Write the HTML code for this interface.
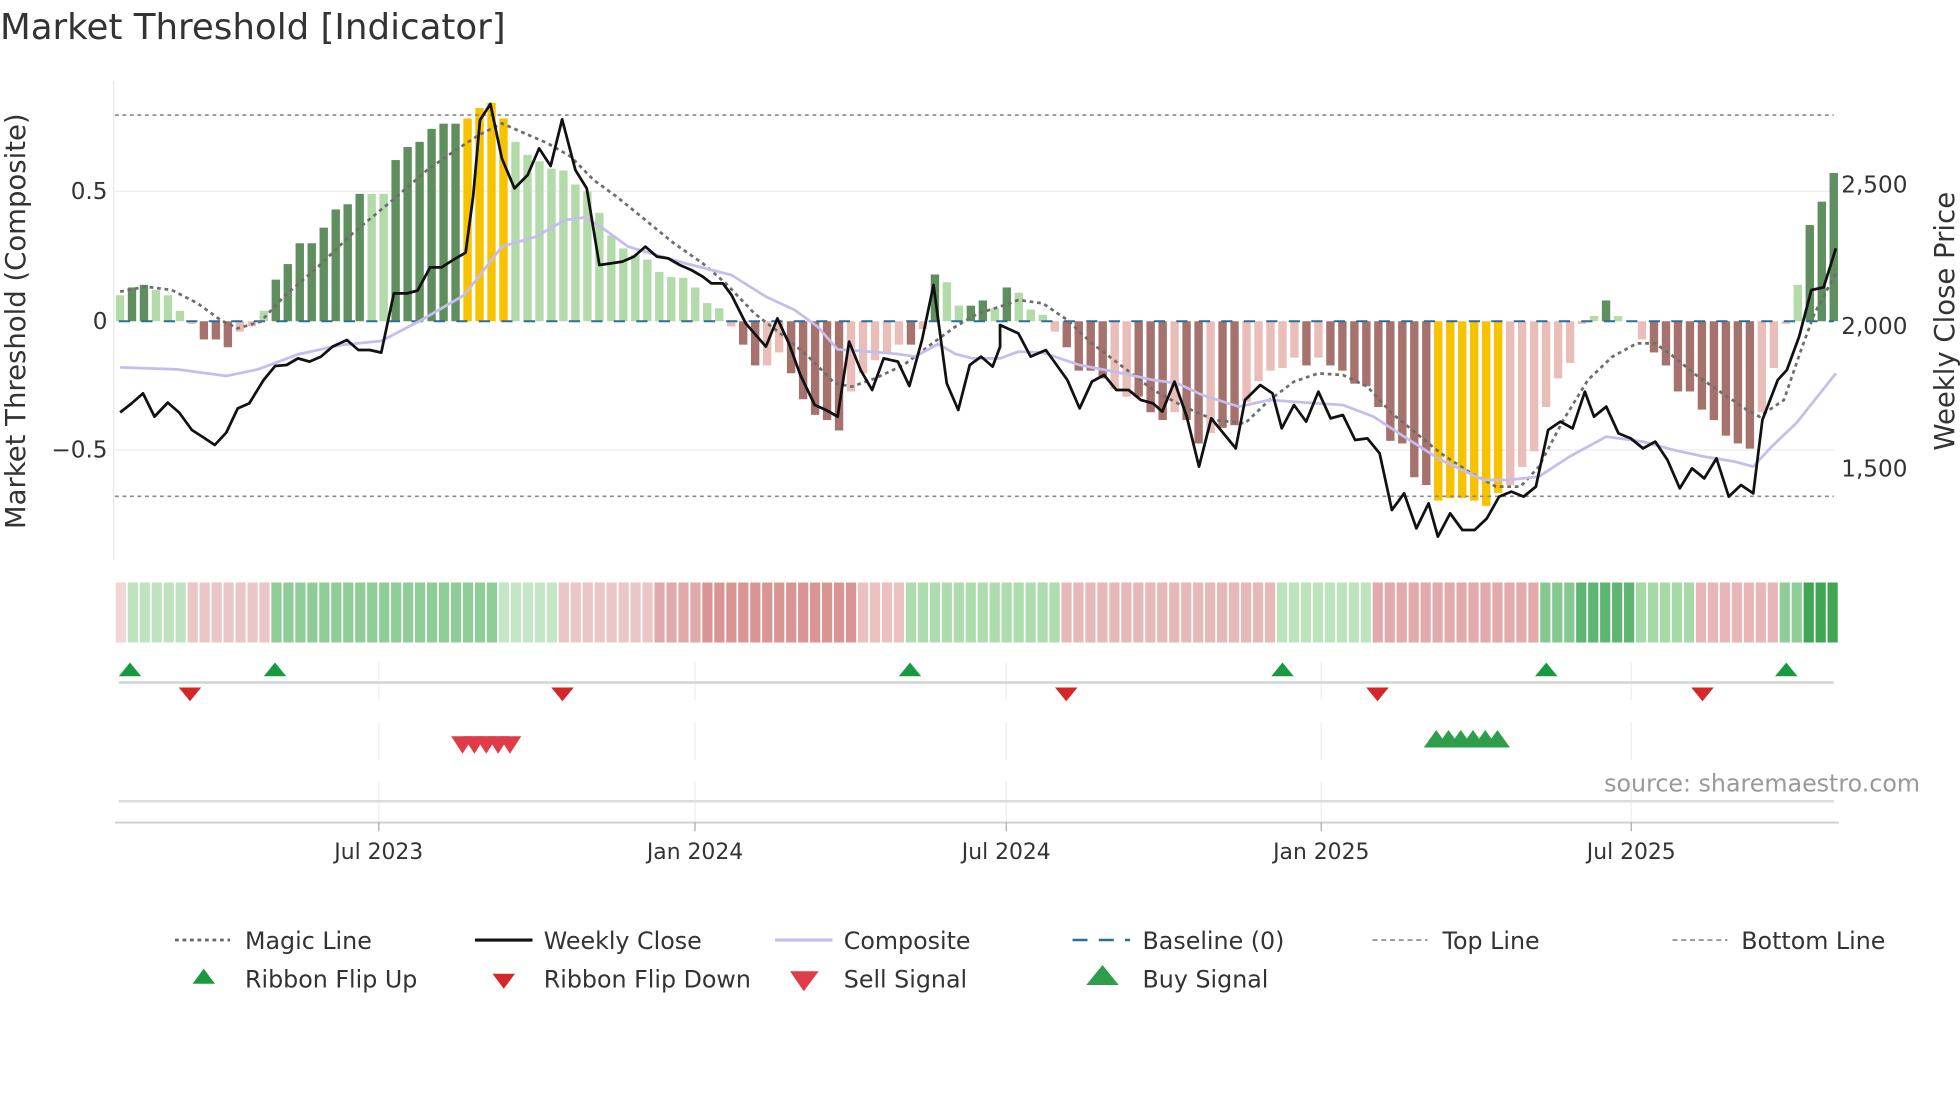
<!DOCTYPE html>
<html><head><meta charset="utf-8"><style>
html,body{margin:0;padding:0;background:#fff;}
svg{display:block;font-family:"DejaVu Sans","Liberation Sans",sans-serif;}
</style></head><body>
<svg id="s" width="1960" height="1102" viewBox="0 0 1568 881.6" xmlns="http://www.w3.org/2000/svg">
<rect width="1568" height="881.6" fill="#fff"/>
<text x="0" y="31" font-size="28.5" fill="#333">Market Threshold [Indicator]</text>
<line x1="91" y1="65" x2="91" y2="448" stroke="#e6e6e6" stroke-width="1"/>
<line x1="92" y1="153" x2="1467" y2="153" stroke="#eeeef2" stroke-width="1.2"/>
<line x1="92" y1="360" x2="1467" y2="360" stroke="#eeeef2" stroke-width="1.2"/>
<text x="86" y="159" font-size="18.5" fill="#333" text-anchor="end">0.5</text>
<text x="86" y="263" font-size="18.5" fill="#333" text-anchor="end">0</text>
<text x="86" y="366" font-size="18.5" fill="#333" text-anchor="end">−0.5</text>
<text x="1473" y="154" font-size="18.5" fill="#333">2,500</text>
<text x="1473" y="267" font-size="18.5" fill="#333">2,000</text>
<text x="1473" y="381" font-size="18.5" fill="#333">1,500</text>
<text transform="translate(20,257) rotate(-90)" font-size="22" fill="#333" text-anchor="middle">Market Threshold (Composite)</text>
<text transform="translate(1563,257) rotate(-90)" font-size="22" fill="#333" text-anchor="middle">Weekly Close Price</text>
<g id="bars"></g>
<line x1="92" y1="92" x2="1467" y2="92" stroke="#888" stroke-width="1.3" stroke-dasharray="3,3"/>
<line x1="92" y1="397" x2="1467" y2="397" stroke="#888" stroke-width="1.3" stroke-dasharray="3,3"/>
<line x1="95" y1="257" x2="1467" y2="257" stroke="#2a6f97" stroke-width="1.6" stroke-dasharray="9,9"/>
<g id="lines"></g>
<g id="rib"></g>
<g stroke="#eceef0" stroke-width="1">
<line x1="303" y1="530" x2="303" y2="560"/><line x1="556" y1="530" x2="556" y2="560"/><line x1="805" y1="530" x2="805" y2="560"/><line x1="1057" y1="530" x2="1057" y2="560"/><line x1="1305" y1="530" x2="1305" y2="560"/>
<line x1="303" y1="578" x2="303" y2="608"/><line x1="556" y1="578" x2="556" y2="608"/><line x1="805" y1="578" x2="805" y2="608"/><line x1="1057" y1="578" x2="1057" y2="608"/><line x1="1305" y1="578" x2="1305" y2="608"/>
<line x1="303" y1="625" x2="303" y2="658"/><line x1="556" y1="625" x2="556" y2="658"/><line x1="805" y1="625" x2="805" y2="658"/><line x1="1057" y1="625" x2="1057" y2="658"/><line x1="1305" y1="625" x2="1305" y2="658"/>
</g>
<line x1="95" y1="546" x2="1467" y2="546" stroke="#d4d4d4" stroke-width="2"/>
<line x1="95" y1="641" x2="1467" y2="641" stroke="#dcdcdc" stroke-width="2"/>
<line x1="92" y1="658" x2="1471" y2="658" stroke="#cfcfcf" stroke-width="1.5"/>
<g stroke="#aaa" stroke-width="1"><line x1="303" y1="658" x2="303" y2="665"/><line x1="556" y1="658" x2="556" y2="665"/><line x1="805" y1="658" x2="805" y2="665"/><line x1="1057" y1="658" x2="1057" y2="665"/><line x1="1305" y1="658" x2="1305" y2="665"/></g>
<g font-size="17.5" fill="#333" text-anchor="middle">
<text x="303" y="687">Jul 2023</text><text x="556" y="687">Jan 2024</text><text x="805" y="687">Jul 2024</text><text x="1057" y="687">Jan 2025</text><text x="1305" y="687">Jul 2025</text>
</g>
<g id="sig"></g>
<text x="1536" y="633" font-size="19" fill="#999" text-anchor="end">source: sharemaestro.com</text>
<g font-size="19" fill="#333">
<line x1="140" y1="752" x2="184" y2="752" stroke="#666" stroke-width="2.2" stroke-dasharray="3,3"/><text x="196" y="759">Magic Line</text>
<line x1="380" y1="752" x2="426" y2="752" stroke="#111" stroke-width="2.5"/><text x="435" y="759">Weekly Close</text>
<line x1="620" y1="752" x2="666" y2="752" stroke="#c4bdee" stroke-width="2.5"/><text x="675" y="759">Composite</text>
<line x1="858" y1="752" x2="904" y2="752" stroke="#2a6f97" stroke-width="2" stroke-dasharray="12,9"/><text x="914" y="759">Baseline (0)</text>
<line x1="1098" y1="752" x2="1142" y2="752" stroke="#888" stroke-width="1.3" stroke-dasharray="4,3"/><text x="1154" y="759">Top Line</text>
<line x1="1338" y1="752" x2="1382" y2="752" stroke="#888" stroke-width="1.3" stroke-dasharray="4,3"/><text x="1393" y="759">Bottom Line</text>
<polygon points="163,775 172,787 154,787" fill="#1a9a40"/><text x="196" y="790">Ribbon Flip Up</text>
<polygon points="394,779 412,779 403,791" fill="#d62728"/><text x="435" y="790">Ribbon Flip Down</text>
<polygon points="632,777 655,777 643,793" fill="#e03c48"/><text x="675" y="790">Sell Signal</text>
<polygon points="882,772 895,788 869,788" fill="#2e9e4a"/><text x="914" y="790">Buy Signal</text>
</g>
</svg>
<script>
(function(){
var NS="http://www.w3.org/2000/svg";
function el(p,t,a){var e=document.createElementNS(NS,t);for(var k in a)e.setAttribute(k,a[k]);p.appendChild(e);return e;}
var C={G:"#5f8f5f",g:"#b3dbaa",R:"#a6726d",r:"#e9bdb8",Y:"#f7c200",n:"#fff"};
var s="g.10 G.13 G.14 g.12 g.10 g.04 r-.01 R-.07 R-.07 R-.10 r-.04 r-.02 g.04 G.16 G.22 G.30 G.30 G.36 G.43 G.45 G.49 g.49 g.49 G.62 G.67 G.69 G.74 G.76 G.76 Y.78 Y.82 Y.84 Y.78 "+
"g.69 g.64 g.615 g.587 g.58 g.526 g.50 g.417 g.33 g.28 g.256 g.237 g.19 g.17 g.167 g.13 g.07 g.05 "+
"r-.02 R-.09 R-.17 r-.17 r-.12 R-.20 R-.30 R-.36 R-.38 R-.42 r-.27 r-.20 r-.15 r-.12 r-.09 R-.09 r-.03 G.18 g.15 g.06 G.06 G.08 g.05 "+
"G.13 g.11 g.045 g.025 r-.04 R-.10 R-.19 R-.19 R-.22 r-.26 r-.29 R-.29 R-.35 R-.38 r-.35 R-.38 R-.47 r-.43 R-.41 R-.40 r-.31 r-.23 r-.19 r-.18 r-.14 R-.17 r-.14 R-.17 R-.19 R-.24 R-.25 R-.33 R-.46 R-.47 R-.60 R-.63 Y-.69 Y-.68 Y-.68 Y-.69 Y-.71 Y-.66 r-.63 r-.56 r-.50 r-.33 r-.22 r-.16 r-.01 g.02 G.08 g.02 n0 r-.07 R-.12 R-.17 R-.27 R-.27 R-.34 R-.38 R-.44 R-.47 R-.49 r-.35 r-.18 r-.01 g.14 G.37 G.46 G.57";
var a=s.split(" "),N=a.length,x0=96,x1=1467,sp=(x1-x0)/(N-1),bw=sp*0.7;
var B=document.getElementById("bars");
a.forEach(function(t,i){var c=t[0],v=parseFloat(t.slice(1));if(c=="n")return;var x=x0+i*sp,y=257-v*208;
el(B,"rect",{x:x-bw/2,y:Math.min(y,257),width:bw,height:Math.abs(257-y),fill:C[c]});});
function z1(p){var o=[];for(var i=0;i<p.length;i+=2)o.push([(100+p[i]/1.742)/1.25,(80+p[i+1]/3)/1.25]);return o;}
function z2(p){var o=[];for(var i=0;i<p.length;i+=2)o.push([(1000+p[i]/1.633)/1.25,(80+p[i+1]/3)/1.25]);return o;}
function pts(o){return o.map(function(q){return q[0].toFixed(1)+","+q[1].toFixed(1)}).join(" ");}
var L=document.getElementById("lines");
var magic=z1([35,635,80,620,125,630,170,670,210,720,240,745,280,725,320,650,380,560,440,460,510,360,570,270,620,210,660,165,700,130,740,160,780,190,820,230,860,300,900,350,950,420,1000,490,1050,550,1090,610,1140,700,1200,780,1240,840,1280,910,1310,920,1350,895,1400,855,1450,790,1490,740,1530,700,1568,680]).concat(z2([30,660,70,670,110,720,150,790,200,860,250,930,300,980,350,1020,400,1030,440,960,480,905,520,880,560,885,600,920,640,1000,680,1060,720,1120,770,1180,810,1220,850,1220,880,1160,920,1020,960,900,1000,830,1040,790,1070,790,1100,830,1140,890,1180,940,1220,990,1240,1010,1280,960,1310,800,1330,700,1365,580]));
var comp=z1([35,862,135,868,220,888,275,868,345,823,420,795,490,783,560,720,635,645,700,500,760,470,810,420,845,412,880,450,920,500,960,520,1020,550,1100,585,1160,650,1210,690,1250,740,1285,808,1340,815,1390,822,1420,830,1460,792,1490,822,1520,835,1568,835]).concat(z2([30,815,70,818,130,855,200,880,250,900,290,910,330,945,390,980,440,960,500,968,560,975,610,1010,660,1070,720,1140,790,1200,830,1200,880,1190,930,1130,990,1070,1050,1085,1100,1110,1150,1130,1200,1145,1230,1160,1260,1100,1300,1030,1365,880]));
var close=z1([35,997,55,970,75,940,95,1010,118,968,138,998,160,1050,180,1072,200,1095,220,1058,240,985,260,970,285,900,305,858,325,855,345,835,365,845,385,830,405,800,430,780,450,810,470,810,490,818,512,640,535,640,553,632,575,562,595,562,615,540,637,518,650,350,662,120,680,72,700,235,722,325,745,285,765,205,785,258,805,118,828,270,848,325,870,555,890,550,910,545,930,530,950,500,970,530,990,535,1010,555,1030,570,1050,590,1065,610,1085,610,1100,645,1125,730,1160,800,1180,715,1200,790,1220,885,1245,975,1265,990,1285,1010,1305,785,1325,870,1345,930,1365,835,1390,845,1410,918,1432,780,1452,615,1475,910,1495,990,1515,855,1535,830,1555,860,1568,800]).concat(z2([0,735,30,760,50,830,75,810,110,900,130,985,150,905,170,885,190,930,210,930,230,960,250,970,265,995,285,905,305,1010,325,1160,345,1015,365,1060,385,1105,400,960,425,915,445,940,460,1045,480,975,500,1025,520,935,540,1015,560,1005,580,1080,600,1075,620,1120,640,1290,660,1240,680,1345,700,1270,715,1370,735,1300,755,1350,775,1350,795,1315,815,1250,835,1235,855,1250,875,1220,895,1050,915,1025,935,1045,955,935,970,1010,990,980,1010,1060,1030,1075,1050,1105,1070,1085,1090,1140,1110,1225,1130,1165,1150,1195,1170,1135,1190,1250,1210,1215,1230,1240,1245,1020,1270,900,1285,870,1305,770,1325,630,1345,622,1365,505]));
el(L,"polyline",{points:pts(magic),fill:"none",stroke:"#6e6e6e","stroke-width":2.2,"stroke-dasharray":"3,3"});
el(L,"polyline",{points:pts(comp),fill:"none",stroke:"#c4bdee","stroke-width":2.2});
el(L,"polyline",{points:pts(close),fill:"none",stroke:"#111","stroke-width":2.2,"stroke-linejoin":"round"});
var R=document.getElementById("rib");
var segs=[[92,100,"#f2d6d6"],[100,148,"#bfe3c0"],[148,215,"#ebc6c6"],[215,400,"#8fcc98"],[400,445,"#c4e6c6"],[445,520,"#ebc6c6"],[520,560,"#e0aaaa"],[560,690,"#d99494"],[690,725,"#ebc0c0"],[725,848,"#addcae"],[848,1020,"#e6b8b8"],[1020,1098,"#bde3bd"],[1098,1232,"#e2aaaa"],[1232,1260,"#86c990"],[1260,1305,"#5fb572"],[1305,1358,"#a6d8a8"],[1358,1425,"#e8b6b6"],[1425,1445,"#8fcc98"],[1445,1471,"#40a654"]];
var rs=(1471-92)/N;
for(var i=0;i<N;i++){var x=92+i*rs,cx=x+rs/2,col="#ccc";segs.forEach(function(g){if(cx>=g[0]&&cx<g[1])col=g[2];});
el(R,"rect",{x:x+0.6,y:466,width:rs-1.4,height:48,fill:col});}
var S=document.getElementById("sig");
[104,220,728,1026,1237,1429].forEach(function(x){el(S,"polygon",{points:(x)+",530 "+(x+9)+",541 "+(x-9)+",541",fill:"#1a9a40"});});
[152,450,853,1102,1362].forEach(function(x){el(S,"polygon",{points:(x-9)+",550 "+(x+9)+",550 "+x+",561",fill:"#d62728"});});
for(var k=0;k<5;k++){var x=370+k*9.5;el(S,"polygon",{points:(x-9)+",589 "+(x+9)+",589 "+x+",603",fill:"#e03c48"});}
for(var k=0;k<6;k++){var x=1149+k*9.8;el(S,"polygon",{points:x+",584 "+(x+10)+",598 "+(x-10)+",598",fill:"#2e9e4a"});}
})();
</script>
</body></html>
